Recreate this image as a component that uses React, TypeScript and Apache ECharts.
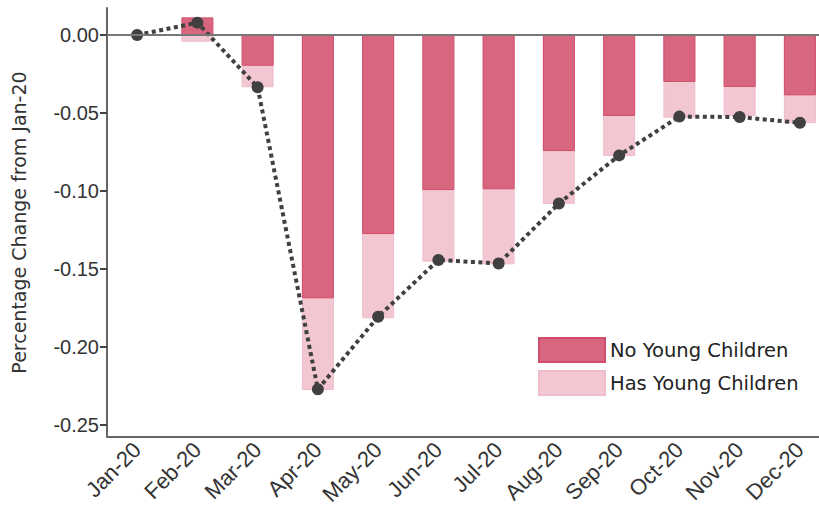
import React, { useEffect, useRef } from "react";
import * as echarts from "echarts";

const categories = ["Jan-20", "Feb-20", "Mar-20", "Apr-20", "May-20", "Jun-20", "Jul-20", "Aug-20", "Sep-20", "Oct-20", "Nov-20", "Dec-20"];
const noYoungChildren = [0, 0.0113, -0.0197, -0.1688, -0.1276, -0.0994, -0.0989, -0.0744, -0.0519, -0.0301, -0.0333, -0.0387];
const hasYoungChildren = [0, -0.0043, -0.0335, -0.2276, -0.1816, -0.1453, -0.147, -0.1083, -0.0776, -0.053, -0.052, -0.0565];
const overall = [0, 0.0079, -0.0335, -0.2271, -0.1806, -0.1442, -0.1465, -0.108, -0.0772, -0.0523, -0.0526, -0.0563];
const yTicks = [0, -0.05, -0.1, -0.15, -0.2, -0.25];

export default function App() {
  const ref = useRef<HTMLDivElement>(null);
  useEffect(() => {
    if (!ref.current) return;
    const chart = echarts.init(ref.current, null, { renderer: "svg" });
    const font = "Liberation Sans, Arial, sans-serif";
    chart.setOption({
      animation: false,
      backgroundColor: "#ffffff",
      grid: { left: 107, right: 0, top: 8, bottom: 71 },
      legend: {
        orient: "vertical",
        left: 538,
        top: 337,
        padding: 0,
        itemWidth: 66,
        itemHeight: 24,
        itemGap: 7,
        icon: "rect",
        data: ["No Young Children", "Has Young Children"],
        textStyle: { fontFamily: "DejaVu Sans, sans-serif", fontSize: 19.5, color: "#222" },
      },
      xAxis: {
        type: "category",
        data: categories,
        axisLine: { onZero: false, lineStyle: { color: "#666", width: 2 } },
        axisTick: { alignWithLabel: true, length: 7, lineStyle: { color: "#444", width: 2 } },
        axisLabel: { rotate: 45, margin: 9, fontFamily: font, fontSize: 22, color: "#333" },
        splitLine: { show: false },
      },
      yAxis: {
        type: "value",
        min: -0.2577,
        max: 0.0173,
        name: "Percentage Change from Jan-20",
        nameLocation: "middle",
        nameRotate: 90,
        nameGap: 79,
        nameTextStyle: { fontFamily: "DejaVu Sans, sans-serif", fontSize: 19, color: "#333" },
        axisLine: { show: true, lineStyle: { color: "#666", width: 2 } },
        axisTick: { show: true, length: 7, customValues: yTicks, lineStyle: { color: "#444", width: 2 } },
        axisLabel: {
          customValues: yTicks,
          margin: 8,
          fontFamily: font,
          fontSize: 20,
          color: "#333",
          formatter: (v: number) => v.toFixed(2),
        },
        splitLine: { show: false },
      },
      series: [
        {
          name: "Has Young Children",
          type: "bar",
          data: hasYoungChildren,
          barWidth: 32,
          barGap: "-100%",
          itemStyle: { color: "#f2c7d1", borderColor: "#efbccb", borderWidth: 1 },
        },
        {
          name: "No Young Children",
          type: "bar",
          data: noYoungChildren,
          barWidth: 32,
          barGap: "-100%",
          itemStyle: { color: "#d9667f", borderColor: "#d24d6c", borderWidth: 1 },
          markLine: {
            silent: true,
            symbol: "none",
            label: { show: false },
            lineStyle: { color: "#777", width: 2, type: "solid" },
            data: [{ yAxis: 0 }],
          },
        },
        {
          name: "Overall",
          type: "line",
          data: overall,
          symbol: "circle",
          symbolSize: 12,
          itemStyle: { color: "#404040" },
          lineStyle: { color: "#404040", width: 4, type: [4, 3.5] },
        },
      ],
    });
    return () => chart.dispose();
  }, []);
  return (
    <div style={{ position: "fixed", left: 0, top: 0, width: 819, height: 508, overflow: "hidden", background: "#fff" }}>
      <div ref={ref} style={{ width: 830, height: 508 }} />
    </div>
  );
}
